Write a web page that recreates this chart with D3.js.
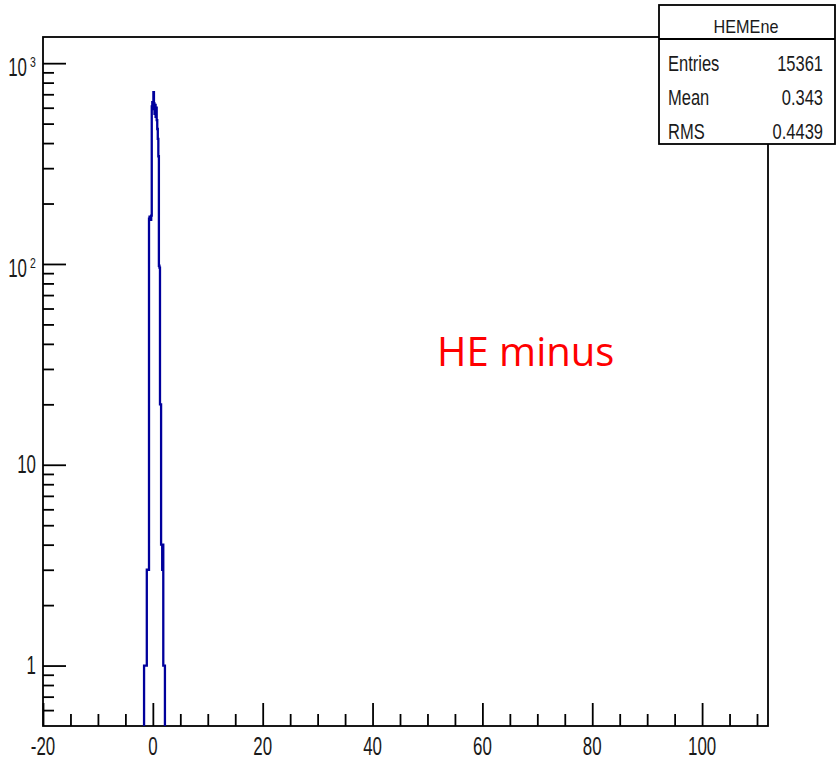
<!DOCTYPE html>
<html>
<head>
<meta charset="utf-8">
<style>
  body { margin: 0; background: #fff; }
  svg { display: block; }
  .lbl { font-family: "Liberation Sans", Arial, sans-serif; fill: #1a1a1a; }
</style>
</head>
<body>
<svg width="836" height="760"></svg>
<script src="https://d3js.org/d3.v7.min.js"></script>
<script>

// histogram bins (lower edges, width 0.1) and counts
var binEdges = [-1.6, -1.5, -1.4, -1.3, -1.2, -1.1, -1.0, -0.9, -0.8, -0.7,
                -0.6, -0.5, -0.4, -0.3, -0.2, -0.1, 0.0, 0.1, 0.2, 0.3,
                0.4, 0.5, 0.6, 0.7, 0.8, 0.9, 1.0, 1.1, 1.2, 1.3,
                1.4, 1.5, 1.6, 1.7, 1.8, 1.9, 2.0, 2.1, 2.2];
var binCounts = [1, 1, 1, 1, 1, 3, 3, 3, 3, 168,
                 172, 170, 166, 174, 610, 640, 590, 717, 630, 560,
                 620, 540, 600, 520, 470, 420, 344, 98, 96, 20,
                 20, 4, 4, 3, 4, 1, 1, 1];

var xTicks = [-20, 0, 20, 40, 60, 80, 100];
var xMinor = [-15, -10, -5, 5, 10, 15, 25, 30, 35, 45, 50, 55, 65, 70, 75, 85, 90, 95, 105, 110];
var yTicks = [1, 10, 100, 1000];
var yMinor = [0.6, 0.7, 0.8, 0.9, 2, 3, 4, 5, 6, 7, 8, 9,
              20, 30, 40, 50, 60, 70, 80, 90, 200, 300, 400, 500, 600, 700, 800, 900];

var statsTitle = "HEMEne";
var statsNames = ["Entries", "Mean", "RMS"];
var statsValues = ["15361", "0.343", "0.4439"];
var annotation = "HE minus";

var svg = d3.select("svg");

var x = d3.scaleLinear().domain([-20, 112]).range([43, 768]);
var y = d3.scaleLog().domain([0.5, 1350]).range([726, 37]);

// frame
svg.append("rect")
    .attr("x", x.range()[0]).attr("y", y.range()[1])
    .attr("width", x.range()[1] - x.range()[0])
    .attr("height", y.range()[0] - y.range()[1])
    .attr("fill", "none").attr("stroke", "#000").attr("stroke-width", 1.8);

// histogram outline
var pts = [[binEdges[0], y.domain()[0]]];
binCounts.forEach(function(c, i) { pts.push([binEdges[i], c]); });
pts.push([binEdges[binEdges.length - 1], binCounts[binCounts.length - 1]]);
pts.push([binEdges[binEdges.length - 1], y.domain()[0]]);

var line = d3.line()
    .x(function(d) { return x(d[0]); })
    .y(function(d) { return y(Math.max(d[1], y.domain()[0])); })
    .curve(d3.curveStepAfter);

svg.append("path")
    .datum(pts)
    .attr("d", line)
    .attr("fill", "none")
    .attr("stroke", "#00009c")
    .attr("stroke-width", 2.3);

// axes, ticks inside the frame like ROOT
function styleAxis(g) {
  g.select(".domain").remove();
  g.selectAll("line").attr("stroke", "#000").attr("stroke-width", 1.8);
}
svg.append("g").attr("transform", "translate(0," + y.range()[0] + ")")
    .call(d3.axisTop(x).tickValues(xTicks).tickSize(23).tickFormat(""))
    .call(styleAxis);
svg.append("g").attr("transform", "translate(0," + y.range()[0] + ")")
    .call(d3.axisTop(x).tickValues(xMinor).tickSize(12).tickFormat(""))
    .call(styleAxis);
svg.append("g").attr("transform", "translate(" + x.range()[0] + ",0)")
    .call(d3.axisRight(y).tickValues(yTicks).tickSize(23).tickFormat(""))
    .call(styleAxis);
svg.append("g").attr("transform", "translate(" + x.range()[0] + ",0)")
    .call(d3.axisRight(y).tickValues(yMinor).tickSize(11).tickFormat(""))
    .call(styleAxis);

// x labels (narrow helvetica look)
svg.selectAll(".xl").data(xTicks).enter().append("text")
    .attr("class", "lbl xl")
    .attr("transform", function(d) { return "translate(" + x(d) + ",755) scale(0.65,1)"; })
    .attr("text-anchor", "middle")
    .attr("font-size", 26)
    .text(function(d) { return d; });

// y labels
yTicks.forEach(function(v) {
  var e = Math.round(Math.log10(v));
  if (e < 2) {
    svg.append("text").attr("class", "lbl")
        .attr("transform", "translate(36," + (y(v) + 8) + ") scale(0.65,1)")
        .attr("text-anchor", "end")
        .attr("font-size", 26)
        .text(v);
  } else {
    svg.append("text").attr("class", "lbl")
        .attr("transform", "translate(27," + (y(v) + 13) + ") scale(0.65,1)")
        .attr("text-anchor", "end")
        .attr("font-size", 26)
        .text("10");
    svg.append("text").attr("class", "lbl")
        .attr("transform", "translate(30," + (y(v) + 4) + ") scale(0.75,1)")
        .attr("font-size", 14)
        .text(e);
  }
});

// stats box
var sb = svg.append("g");
sb.append("rect").attr("x", 659).attr("y", 5).attr("width", 176).attr("height", 139)
    .attr("fill", "#fff").attr("stroke", "#000").attr("stroke-width", 1.8);
sb.append("line").attr("x1", 659).attr("x2", 835).attr("y1", 39).attr("y2", 39)
    .attr("stroke", "#000").attr("stroke-width", 1.8);
sb.append("text").attr("class", "lbl")
    .attr("transform", "translate(746,33) scale(0.9,1)")
    .attr("text-anchor", "middle").attr("font-size", 18)
    .text(statsTitle);
statsNames.forEach(function(n, i) {
  var by = 71 + i * 34;
  sb.append("text").attr("class", "lbl")
      .attr("transform", "translate(668," + by + ") scale(0.75,1)")
      .attr("font-size", 22).text(n);
  sb.append("text").attr("class", "lbl")
      .attr("transform", "translate(823," + by + ") scale(0.75,1)")
      .attr("text-anchor", "end")
      .attr("font-size", 22).text(statsValues[i]);
});

// red annotation
svg.append("text")
    .attr("x", 437).attr("y", 366)
    .attr("font-family", "'Open Sans', sans-serif")
    .attr("font-size", 40)
    .attr("fill", "#ff0000")
    .text(annotation);

</script>
</body>
</html>
